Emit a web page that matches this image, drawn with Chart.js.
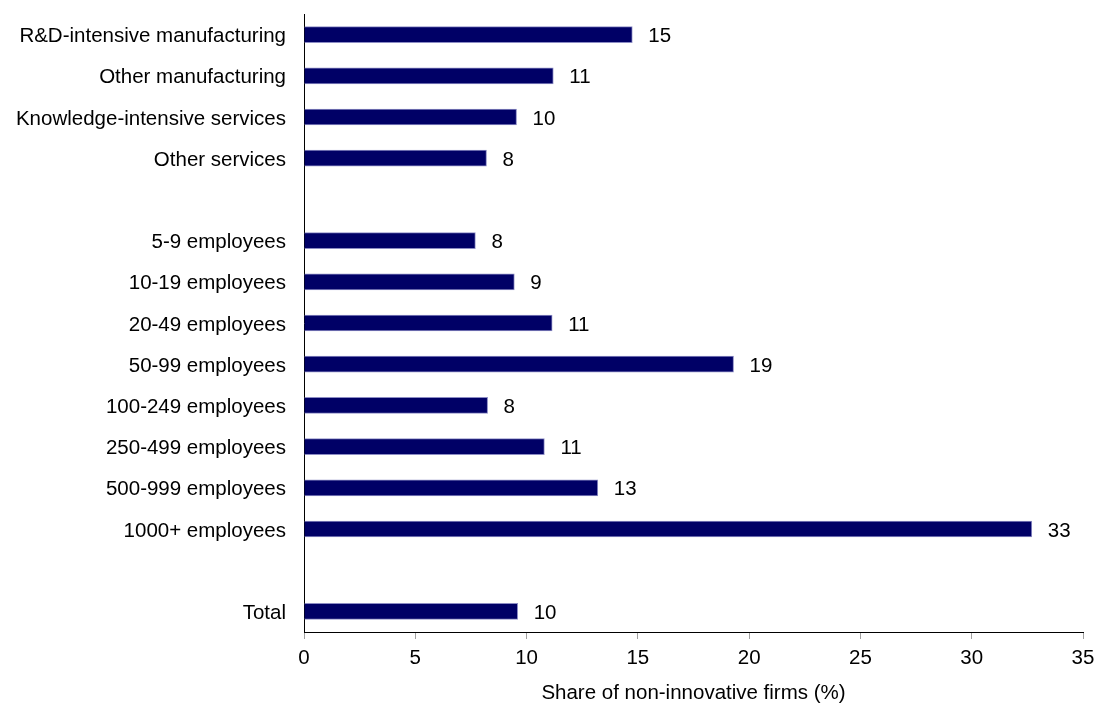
<!DOCTYPE html>
<html>
<head>
<meta charset="utf-8">
<script src="https://cdn.jsdelivr.net/npm/chart.js@4"></script>
<style>
    html, body { margin: 0; padding: 0; background: #fff; }
    #wrap { width: 1095px; height: 706px; position: relative; }
</style>
</head>
<body>
<div id="wrap"><canvas id="chart"></canvas></div>
<script>
// Rows top to bottom; empty strings are the spacer rows
const categories = [
    'R&D-intensive manufacturing',
    'Other manufacturing',
    'Knowledge-intensive services',
    'Other services',
    '',
    '5-9 employees',
    '10-19 employees',
    '20-49 employees',
    '50-99 employees',
    '100-249 employees',
    '250-499 employees',
    '500-999 employees',
    '1000+ employees',
    '',
    'Total'
];
const shares = [14.75, 11.2, 9.55, 8.2, null, 7.7, 9.45, 11.15, 19.3, 8.25, 10.8, 13.2, 32.7, null, 9.6];
const xTicks = [0, 5, 10, 15, 20, 25, 30, 35];

const FONT = 'Arial, "Liberation Sans", sans-serif';
const FSIZE = 20.5;

// value labels at the end of each bar
const valueLabels = {
    id: 'valueLabels',
    afterDatasetsDraw(chart) {
        const ctx = chart.ctx;
        const meta = chart.getDatasetMeta(0);
        ctx.save();
        ctx.font = FSIZE + 'px ' + FONT;
        ctx.fillStyle = '#000';
        ctx.textAlign = 'left';
        ctx.textBaseline = 'middle';
        meta.data.forEach((bar, i) => {
            const v = shares[i];
            if (v == null) return;
            ctx.fillText(String(Math.round(v)), bar.x + 16, bar.y + 2);
        });
        ctx.restore();
    }
};

new Chart(document.getElementById('chart'), {
    type: 'bar',
    data: {
        labels: categories,
        datasets: [{
            data: shares,
            backgroundColor: '#000066',
            borderColor: '#8c8cc4',
            borderWidth: 1,
            borderSkipped: 'start',
            barThickness: 16
        }]
    },
    options: {
        indexAxis: 'y',
        responsive: true,
        maintainAspectRatio: false,
        animation: false,
        layout: { padding: { left: 0, right: 12, top: 14, bottom: 0 } },
        plugins: {
            legend: { display: false },
            tooltip: { enabled: false }
        },
        scales: {
            y: {
                grid: { display: false, drawTicks: false },
                border: { display: true, color: '#000', width: 1 },
                ticks: {
                    color: '#000',
                    font: { family: FONT, size: FSIZE },
                    padding: 18,
                    labelOffset: 2,
                    autoSkip: false
                },
                afterFit(scale) {
                    scale.width = 304;
                    scale.paddingTop = 0;
                    scale.paddingBottom = 0;
                }
            },
            x: {
                min: 0,
                max: 35,
                afterBuildTicks(scale) {
                    scale.ticks = xTicks.map(v => ({ value: v }));
                },
                grid: {
                    display: true,
                    drawOnChartArea: false,
                    drawTicks: true,
                    tickLength: 7,
                    color: '#a0a0a0'
                },
                border: { display: true, color: '#000', width: 1 },
                ticks: {
                    color: '#000',
                    font: { family: FONT, size: FSIZE },
                    padding: 7,
                    maxRotation: 0
                },
                title: {
                    display: true,
                    text: 'Share of non-innovative firms (%)',
                    color: '#000',
                    font: { family: FONT, size: FSIZE },
                    padding: { top: 10, bottom: 0 }
                },
                afterFit(scale) {
                    scale.height = 74;
                    scale.paddingLeft = 0;
                    scale.paddingRight = 0;
                }
            }
        }
    },
    plugins: [valueLabels]
});
</script>
</body>
</html>
